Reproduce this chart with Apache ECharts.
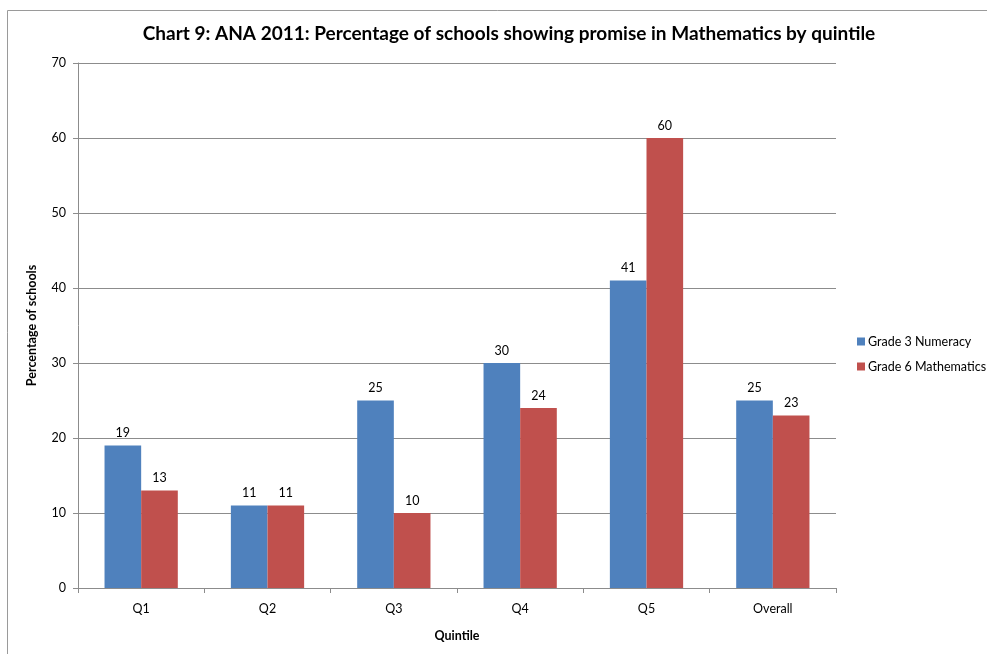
<!DOCTYPE html>
<html>
<head>
<meta charset="utf-8">
<script src="https://cdn.jsdelivr.net/npm/echarts@6/dist/echarts.min.js"></script>
<style>
  html, body { margin: 0; padding: 0; background: #fff; }
  #chart { width: 987px; height: 654px; }
</style>
</head>
<body>
<div id="chart"></div>
<script>
// Share of schools showing promise in Mathematics, by quintile
const categories = ['Q1', 'Q2', 'Q3', 'Q4', 'Q5', 'Overall'];
const grade3Numeracy = [19, 11, 25, 30, 41, 25];
const grade6Mathematics = [13, 11, 10, 24, 60, 23];
const yTicks = [0, 10, 20, 30, 40, 50, 60, 70];

const FONT = 'Lato, "Open Sans", sans-serif';
const SMALL = 12.5;

const chart = echarts.init(document.getElementById('chart'), null, { renderer: 'canvas' });

const labelStyle = {
  show: true,
  position: 'top',
  distance: 6,
  color: '#000',
  fontFamily: FONT,
  fontSize: SMALL
};

chart.setOption({
  animation: false,
  backgroundColor: '#fff',
  graphic: [{
    type: 'rect',
    shape: { x: 7.5, y: 10.5, width: 1100, height: 800 },
    style: { fill: 'none', stroke: '#9a9a9a', lineWidth: 1 },
    silent: true,
    z: -1
  }],
  title: {
    text: 'Chart 9: ANA 2011: Percentage of schools showing promise in Mathematics by quintile',
    left: 504,
    textAlign: 'center',
    top: 19,
    textStyle: { fontFamily: FONT, fontWeight: 'bold', fontSize: 19, color: '#000' }
  },
  legend: {
    orient: 'vertical',
    left: 857,
    top: 335,
    padding: 0,
    itemWidth: 8,
    itemHeight: 8,
    itemGap: 12,
    icon: 'rect',
    textStyle: { fontFamily: FONT, fontSize: SMALL, color: '#000', padding: [0, 0, 0, -2] },
    data: ['Grade 3 Numeracy', 'Grade 6 Mathematics']
  },
  grid: { left: 78, right: 151, top: 63, bottom: 66, containLabel: false },
  xAxis: {
    type: 'category',
    data: categories,
    name: 'Quintile',
    nameLocation: 'middle',
    nameGap: 41,
    nameTextStyle: { fontFamily: FONT, fontWeight: 'bold', fontSize: SMALL, color: '#000' },
    axisLine: { lineStyle: { color: '#8c8c8c' } },
    axisTick: { show: true, alignWithLabel: false, length: 5, lineStyle: { color: '#8c8c8c' } },
    axisLabel: { fontFamily: FONT, fontSize: SMALL, color: '#000', margin: 14 }
  },
  yAxis: {
    type: 'value',
    min: yTicks[0],
    max: yTicks[yTicks.length - 1],
    interval: 10,
    name: 'Percentage of schools',
    nameLocation: 'middle',
    nameGap: 40,
    nameRotate: 90,
    nameTextStyle: { fontFamily: FONT, fontWeight: 'bold', fontSize: SMALL, color: '#000' },
    axisLine: { show: true, lineStyle: { color: '#8c8c8c' } },
    axisTick: { show: true, length: 5, lineStyle: { color: '#8c8c8c' } },
    axisLabel: { fontFamily: FONT, fontSize: SMALL, color: '#000', margin: 12 },
    splitLine: { show: true, lineStyle: { color: '#8c8c8c' } }
  },
  series: [
    {
      name: 'Grade 3 Numeracy',
      type: 'bar',
      data: grade3Numeracy,
      barGap: '0%',
      barCategoryGap: '42%',
      itemStyle: { color: '#4F81BD' },
      label: labelStyle
    },
    {
      name: 'Grade 6 Mathematics',
      type: 'bar',
      data: grade6Mathematics,
      barGap: '0%',
      barCategoryGap: '42%',
      itemStyle: { color: '#C0504D' },
      label: labelStyle
    }
  ]
});
</script>
</body>
</html>
